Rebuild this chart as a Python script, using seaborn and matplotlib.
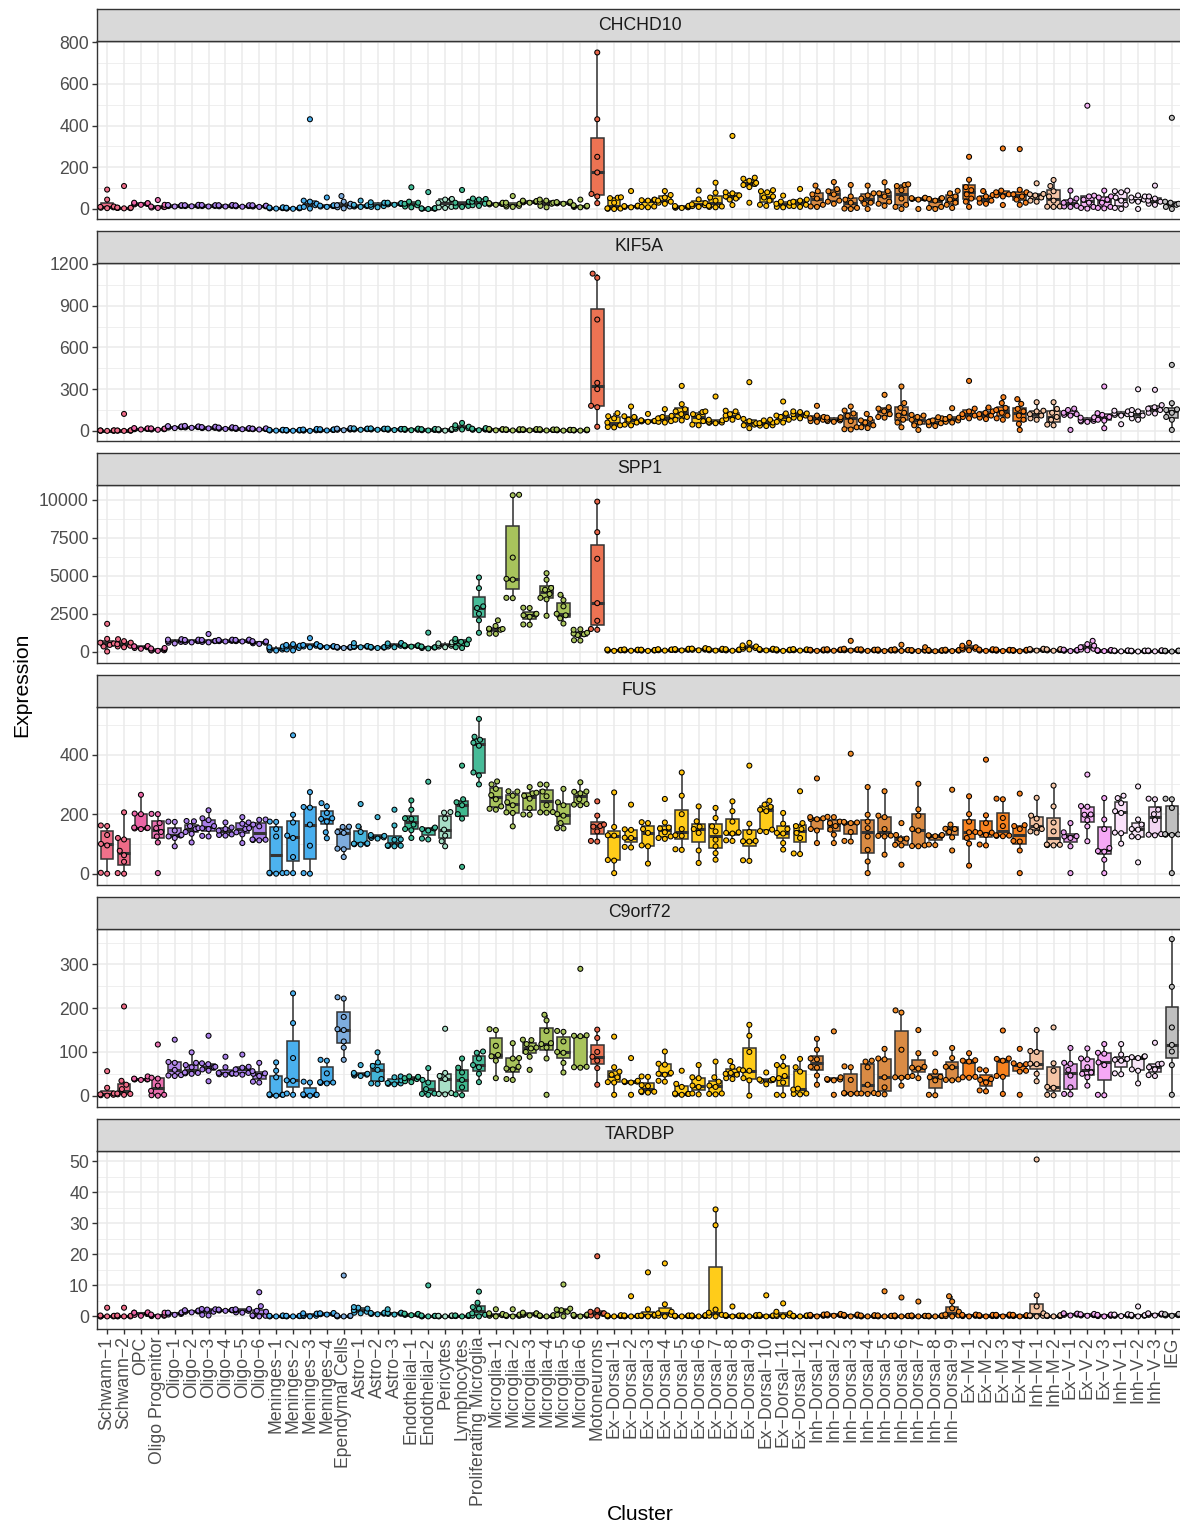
import warnings
import numpy as np
import pandas as pd
import matplotlib
matplotlib.use("Agg")
import matplotlib.pyplot as plt
from matplotlib.ticker import MultipleLocator, FixedLocator, FuncFormatter
import seaborn as sns

warnings.filterwarnings("ignore")

clusters = [
    "Schwann-1", "Schwann-2", "OPC", "Oligo Progenitor",
    "Oligo-1", "Oligo-2", "Oligo-3", "Oligo-4", "Oligo-5", "Oligo-6",
    "Meninges-1", "Meninges-2", "Meninges-3", "Meninges-4", "Ependymal Cells",
    "Astro-1", "Astro-2", "Astro-3", "Endothelial-1", "Endothelial-2",
    "Pericytes", "Lymphocytes", "Proliferating Microglia",
    "Microglia-1", "Microglia-2", "Microglia-3", "Microglia-4", "Microglia-5", "Microglia-6",
    "Motoneurons",
    "Ex-Dorsal-1", "Ex-Dorsal-2", "Ex-Dorsal-3", "Ex-Dorsal-4", "Ex-Dorsal-5", "Ex-Dorsal-6",
    "Ex-Dorsal-7", "Ex-Dorsal-8", "Ex-Dorsal-9", "Ex-Dorsal-10", "Ex-Dorsal-11", "Ex-Dorsal-12",
    "Inh-Dorsal-1", "Inh-Dorsal-2", "Inh-Dorsal-3", "Inh-Dorsal-4", "Inh-Dorsal-5",
    "Inh-Dorsal-6", "Inh-Dorsal-7", "Inh-Dorsal-8", "Inh-Dorsal-9",
    "Ex-M-1", "Ex-M-2", "Ex-M-3", "Ex-M-4", "Inh-M-1", "Inh-M-2",
    "Ex-V-1", "Ex-V-2", "Ex-V-3", "Inh-V-1", "Inh-V-2", "Inh-V-3", "IEG",
]

genes = ["CHCHD10", "KIF5A", "SPP1", "FUS", "C9orf72", "TARDBP"]

# per-cluster sample values, one list per cluster (same order as `clusters`)
CHCHD10 = [
    [4, 6, 8, 10, 12, 45, 93], [3, 4, 5, 5, 6, 7, 110], [20, 22, 24, 26, 27, 28, 30],
    [5, 7, 9, 10, 12, 20, 43], [12, 14, 15, 16, 17, 18, 19], [13, 14, 15, 16, 17, 18, 20],
    [12, 14, 15, 16, 17, 18, 19], [12, 13, 15, 16, 17, 18, 19], [11, 13, 14, 15, 16, 17, 18],
    [10, 12, 13, 14, 15, 16, 18], [2, 3, 4, 5, 6, 7, 8], [1, 2, 3, 4, 5, 6, 7],
    [2, 10, 18, 25, 35, 40, 430], [10, 12, 14, 15, 16, 18, 55], [3, 8, 12, 18, 25, 35, 62],
    [10, 12, 14, 16, 18, 20, 40], [8, 10, 14, 20, 28, 30, 32], [20, 22, 24, 26, 27, 28, 30],
    [8, 12, 18, 25, 30, 35, 104], [0, 1, 2, 2, 3, 4, 81], [5, 8, 10, 30, 45, 46, 48],
    [10, 12, 15, 30, 33, 35, 91], [15, 18, 25, 35, 45, 48, 50], [20, 22, 24, 25, 27, 28, 30],
    [10, 12, 15, 20, 25, 30, 62], [30, 32, 34, 35, 36, 38, 40], [8, 15, 25, 30, 35, 40, 45],
    [25, 27, 28, 30, 31, 33, 35], [8, 10, 12, 14, 15, 18, 45], [28, 60, 72, 175, 250, 430, 750],
    [0, 1, 2, 3, 30, 52, 54, 56], [8, 10, 12, 14, 15, 16, 86], [8, 10, 12, 40, 42, 44, 45],
    [25, 30, 35, 40, 55, 67, 86], [5, 6, 8, 10, 12, 14, 15], [10, 14, 18, 22, 28, 46, 88],
    [8, 10, 12, 15, 40, 55, 78, 126], [19, 45, 50, 60, 65, 75, 80, 350],
    [30, 105, 115, 120, 125, 135, 145, 150], [15, 20, 40, 55, 60, 80, 85, 90],
    [8, 10, 15, 25, 30, 35, 64], [10, 14, 20, 35, 40, 45, 96],
    [10, 12, 20, 50, 70, 85, 112], [25, 35, 40, 70, 85, 95, 129], [0, 2, 5, 30, 45, 60, 115],
    [0, 25, 30, 50, 65, 75, 112], [15, 25, 35, 60, 75, 85, 128], [0, 10, 20, 50, 90, 110, 115, 118],
    [0, 45, 48, 50, 51, 52, 54], [0, 5, 10, 40, 48, 50, 52], [5, 20, 30, 45, 60, 75, 87],
    [10, 35, 50, 70, 90, 105, 140, 250], [25, 30, 40, 50, 60, 67, 86], [19, 60, 65, 70, 80, 88, 290],
    [20, 30, 45, 60, 70, 80, 92, 287], [35, 40, 55, 65, 70, 72, 123], [10, 11, 12, 40, 60, 85, 110, 139],
    [10, 12, 15, 30, 40, 50, 88], [2, 5, 10, 30, 45, 60, 64, 495], [3, 5, 10, 30, 45, 55, 60, 88],
    [0, 5, 20, 40, 55, 80, 85, 88], [0, 35, 40, 45, 55, 60, 65], [20, 25, 35, 40, 50, 60, 112],
    [0, 10, 20, 25, 30, 35, 437],
]

KIF5A = [
    [0, 1, 1, 2, 2, 3, 4], [0, 1, 2, 2, 3, 4, 122], [10, 12, 14, 15, 16, 18, 20],
    [8, 10, 12, 14, 15, 16, 18], [20, 24, 26, 28, 30, 32, 34], [22, 25, 27, 28, 30, 32, 36],
    [18, 20, 22, 24, 25, 27, 30], [14, 16, 18, 20, 22, 24, 26], [12, 14, 15, 16, 18, 20, 22],
    [10, 12, 13, 14, 15, 16, 18], [2, 3, 4, 5, 6, 7, 8], [1, 2, 3, 4, 5, 6, 7],
    [0, 2, 4, 6, 8, 10, 14], [3, 5, 6, 8, 9, 10, 12], [5, 8, 10, 12, 14, 16, 20],
    [8, 10, 12, 14, 15, 16, 18], [8, 10, 12, 13, 14, 16, 18], [6, 8, 10, 12, 13, 14, 16],
    [5, 7, 9, 10, 12, 14, 16], [3, 5, 7, 8, 10, 12, 14], [2, 4, 6, 8, 10, 12, 14],
    [10, 15, 20, 25, 30, 40, 57], [5, 8, 10, 12, 14, 16, 20], [4, 6, 8, 10, 11, 12, 14],
    [3, 5, 6, 8, 9, 10, 12], [4, 6, 7, 8, 10, 11, 13], [3, 5, 6, 7, 8, 10, 12],
    [2, 4, 5, 6, 7, 8, 10], [2, 3, 4, 5, 6, 7, 9], [30, 170, 180, 300, 345, 800, 1100, 1130],
    [25, 28, 40, 60, 90, 105, 127], [40, 45, 60, 80, 100, 105, 175], [65, 68, 70, 72, 74, 76, 122],
    [60, 65, 70, 90, 100, 108, 156], [75, 80, 100, 120, 140, 155, 192, 323],
    [40, 45, 70, 100, 120, 135, 140], [55, 58, 60, 65, 75, 80, 247], [80, 85, 100, 110, 120, 140, 145],
    [19, 40, 45, 55, 70, 86, 350], [35, 38, 40, 55, 60, 75, 80], [60, 65, 80, 100, 110, 125, 211],
    [90, 95, 110, 120, 125, 135, 140], [65, 70, 80, 90, 100, 110, 180], [65, 70, 75, 80, 85, 95, 98],
    [10, 12, 26, 70, 108, 125, 146, 175], [20, 26, 40, 60, 75, 86, 122],
    [95, 100, 120, 140, 160, 170, 259], [26, 60, 80, 110, 130, 165, 200, 319],
    [7, 40, 60, 80, 100, 110, 115], [35, 40, 55, 65, 75, 90, 98], [60, 65, 75, 85, 95, 100, 163],
    [90, 100, 110, 120, 140, 160, 359], [85, 95, 110, 120, 130, 140, 168],
    [80, 90, 110, 130, 150, 165, 200, 242], [7, 50, 80, 110, 140, 158, 194, 228],
    [80, 90, 110, 120, 140, 145, 206], [40, 45, 80, 100, 130, 158, 206],
    [7, 110, 115, 120, 130, 150, 160], [65, 68, 72, 75, 85, 95, 97], [19, 74, 80, 100, 115, 127, 319],
    [48, 110, 115, 120, 125, 140, 145], [80, 90, 110, 120, 140, 150, 299],
    [125, 130, 150, 160, 170, 185, 295], [7, 80, 100, 130, 150, 155, 199, 474],
]

SPP1 = [
    [20, 350, 450, 550, 600, 850, 1840], [300, 350, 400, 500, 600, 700, 830],
    [200, 250, 300, 330, 350, 360, 380], [60, 80, 100, 130, 180, 220, 250],
    [550, 600, 650, 700, 750, 800, 830], [620, 650, 700, 720, 750, 780, 800],
    [620, 650, 700, 720, 750, 780, 1170], [680, 700, 720, 740, 760, 780, 800],
    [680, 700, 720, 740, 760, 780, 800], [520, 560, 600, 640, 660, 680, 700],
    [80, 100, 150, 200, 250, 300, 350], [90, 150, 250, 350, 400, 450, 500],
    [300, 350, 400, 450, 480, 500, 900], [300, 320, 340, 350, 360, 370, 380],
    [250, 270, 280, 290, 300, 310, 320], [300, 320, 340, 350, 360, 380, 570],
    [250, 270, 280, 290, 300, 310, 320], [300, 350, 400, 450, 500, 550, 580],
    [340, 360, 380, 400, 410, 420, 430], [220, 250, 280, 300, 320, 350, 1260],
    [300, 350, 400, 450, 500, 550, 620], [250, 300, 500, 650, 700, 800, 850],
    [1250, 2070, 2500, 2880, 2990, 4190, 4890], [1180, 1200, 1450, 1480, 1500, 1520, 1700, 2070],
    [3530, 3550, 4750, 4800, 6200, 10300, 10330], [1780, 1800, 2300, 2400, 2450, 2500, 2880, 2900],
    [2370, 3450, 3550, 3800, 4080, 4200, 4740, 5170], [1860, 2200, 2400, 2500, 2990, 3400, 3750],
    [740, 760, 1100, 1150, 1200, 1250, 1450, 1480], [1450, 1500, 2040, 3200, 6120, 7870, 9880],
    [60, 80, 100, 110, 120, 130, 150], [70, 90, 100, 110, 120, 140, 160],
    [60, 80, 90, 100, 110, 120, 140], [80, 100, 120, 130, 140, 150, 170],
    [90, 110, 130, 150, 160, 180, 200], [100, 130, 150, 170, 190, 210, 240],
    [80, 100, 120, 140, 160, 180, 200], [70, 90, 110, 120, 130, 150, 170],
    [150, 200, 250, 300, 350, 420, 590], [90, 110, 130, 150, 160, 180, 200],
    [60, 80, 100, 110, 120, 140, 160], [80, 100, 110, 120, 140, 160, 180],
    [60, 80, 90, 100, 120, 130, 150], [70, 90, 110, 120, 130, 150, 170],
    [80, 100, 120, 140, 160, 200, 720], [60, 80, 100, 110, 120, 140, 160],
    [50, 70, 90, 100, 110, 130, 150], [60, 80, 100, 120, 140, 160, 460],
    [50, 60, 80, 90, 100, 110, 300], [40, 60, 70, 80, 90, 100, 120],
    [50, 70, 80, 90, 100, 120, 140], [100, 150, 200, 250, 300, 400, 590],
    [60, 80, 100, 110, 130, 150, 170], [50, 70, 90, 100, 110, 130, 150],
    [40, 60, 80, 90, 100, 110, 130], [80, 100, 120, 140, 160, 180, 200],
    [70, 90, 110, 120, 140, 160, 180], [50, 70, 80, 90, 100, 120, 140],
    [100, 150, 200, 300, 400, 500, 720], [50, 60, 70, 80, 90, 100, 120],
    [30, 40, 50, 60, 70, 80, 90], [20, 30, 40, 50, 60, 70, 80],
    [30, 40, 50, 60, 70, 80, 100], [20, 30, 40, 50, 60, 70, 80],
]

FUS = [
    [0, 3, 95, 100, 130, 160, 162], [0, 2, 40, 62, 77, 115, 120, 206],
    [150, 152, 153, 154, 155, 200, 202, 265], [2, 105, 125, 140, 153, 170, 200, 201],
    [92, 120, 125, 128, 130, 145, 174, 175], [105, 134, 140, 150, 153, 160, 176, 177],
    [125, 127, 150, 153, 160, 180, 186, 213], [128, 130, 132, 145, 150, 155, 172],
    [103, 132, 139, 150, 153, 168, 172, 190], [112, 113, 114, 115, 159, 165, 181, 182],
    [0, 1, 2, 3, 125, 150, 174, 175], [2, 3, 56, 120, 128, 172, 198, 465],
    [0, 2, 94, 165, 222, 224, 274], [119, 139, 175, 184, 186, 204, 226, 237],
    [56, 82, 84, 137, 140, 157, 158], [98, 99, 100, 101, 102, 140, 159, 234],
    [118, 120, 122, 125, 127, 130, 190], [92, 93, 94, 95, 114, 115, 162, 215],
    [120, 146, 150, 165, 184, 186, 215, 246], [115, 118, 145, 150, 152, 155, 309],
    [92, 109, 128, 148, 185, 205, 207], [23, 185, 200, 230, 240, 250, 363],
    [300, 330, 340, 430, 440, 450, 460, 520], [215, 218, 226, 250, 264, 285, 300, 310],
    [159, 204, 206, 230, 240, 262, 276, 277], [198, 199, 220, 252, 262, 270, 272, 291],
    [205, 206, 207, 230, 260, 276, 299, 300], [152, 153, 170, 195, 200, 230, 240, 285],
    [230, 232, 234, 250, 270, 275, 276, 307], [108, 110, 142, 158, 160, 165, 195, 243],
    [2, 44, 46, 128, 129, 157, 273], [88, 90, 120, 121, 147, 149, 232],
    [34, 92, 95, 137, 150, 170, 173], [117, 120, 125, 139, 152, 155, 172, 251],
    [80, 82, 127, 129, 150, 200, 262, 340], [36, 78, 137, 150, 158, 176, 226],
    [47, 69, 92, 114, 142, 159, 187, 221], [110, 112, 135, 137, 139, 175, 210, 243],
    [43, 45, 108, 109, 110, 140, 168, 363], [140, 143, 148, 210, 215, 225, 232, 245],
    [81, 103, 135, 137, 150, 168, 204], [66, 68, 120, 137, 150, 160, 170, 277],
    [103, 145, 150, 183, 184, 186, 190, 320], [103, 131, 148, 160, 170, 175, 190, 191],
    [108, 110, 140, 170, 171, 172, 174, 403], [2, 41, 80, 125, 153, 175, 198, 291],
    [64, 125, 127, 128, 150, 190, 195, 277], [30, 95, 97, 115, 118, 130, 170],
    [92, 93, 95, 145, 150, 195, 216, 302], [96, 98, 126, 127, 128, 129, 130],
    [78, 122, 140, 150, 151, 165, 282], [27, 101, 120, 139, 140, 175, 200, 260],
    [95, 98, 130, 137, 138, 170, 196, 383], [126, 127, 128, 129, 160, 187, 250, 252],
    [2, 78, 108, 110, 150, 160, 163, 269], [138, 142, 150, 160, 185, 195, 255],
    [95, 96, 97, 98, 142, 172, 226, 296], [2, 92, 120, 125, 126, 139, 170],
    [109, 159, 180, 198, 199, 225, 227, 333], [2, 47, 74, 76, 86, 150, 182, 254],
    [101, 136, 138, 204, 210, 237, 254, 262], [38, 123, 125, 148, 150, 165, 182, 293],
    [129, 131, 133, 180, 200, 215, 250, 252], [2, 130, 131, 132, 133, 221, 250, 252],
]

C9orf72 = [
    [0, 1, 2, 3, 5, 18, 56], [2, 3, 4, 5, 15, 25, 34, 204], [36, 37, 37, 38, 38, 39, 44],
    [0, 1, 2, 11, 23, 39, 41, 117], [45, 46, 47, 59, 75, 77, 128], [50, 51, 52, 53, 65, 70, 75, 99],
    [33, 57, 60, 65, 66, 72, 74, 137], [48, 49, 50, 51, 52, 65, 89], [48, 50, 52, 60, 64, 66, 94],
    [30, 32, 45, 50, 51, 56, 75], [0, 1, 2, 2, 3, 42, 57, 76], [2, 5, 34, 35, 86, 166, 234],
    [0, 1, 2, 2, 3, 30, 32], [28, 29, 30, 31, 51, 80, 82], [82, 110, 124, 150, 152, 180, 222, 225],
    [45, 46, 48, 49, 50, 52, 70], [27, 28, 38, 59, 68, 76, 99], [26, 27, 28, 29, 35, 42, 44],
    [31, 33, 38, 40, 42, 43, 44], [2, 4, 5, 15, 30, 36, 63], [3, 4, 6, 38, 45, 52, 153],
    [1, 3, 19, 36, 53, 64, 85], [31, 50, 65, 70, 85, 98, 101], [40, 80, 90, 93, 114, 150, 152],
    [36, 38, 60, 62, 66, 85, 86, 120], [59, 89, 100, 108, 110, 118, 127, 128],
    [2, 85, 110, 118, 120, 148, 172, 185], [53, 75, 98, 100, 124, 146, 148],
    [64, 65, 66, 136, 137, 138, 290], [25, 63, 80, 89, 100, 132, 151],
    [2, 30, 31, 42, 48, 55, 65, 135], [2, 30, 31, 32, 33, 34, 86], [7, 8, 9, 10, 22, 24, 43, 44],
    [32, 34, 48, 50, 52, 71, 73, 101], [2, 3, 4, 4, 5, 20, 27, 57], [3, 5, 20, 23, 40, 42, 70],
    [3, 4, 5, 20, 23, 32, 42, 78], [38, 40, 48, 50, 52, 60, 66, 79], [0, 35, 40, 57, 58, 100, 137, 162],
    [26, 34, 35, 36, 37, 38, 53], [1, 2, 30, 40, 45, 68, 70, 88], [3, 4, 5, 14, 16, 55, 65, 84],
    [25, 46, 64, 66, 83, 85, 105, 130], [2, 35, 36, 37, 38, 42, 147], [4, 5, 5, 6, 36, 65, 67],
    [4, 5, 6, 25, 65, 78, 80], [3, 4, 19, 42, 83, 85, 107], [23, 41, 42, 43, 105, 190, 195],
    [40, 45, 62, 64, 66, 97, 150], [1, 2, 35, 42, 43, 55, 97], [35, 36, 37, 65, 66, 86, 109],
    [41, 42, 43, 78, 80, 81, 97], [10, 12, 30, 36, 38, 58, 60], [4, 43, 45, 80, 84, 85, 149],
    [2, 55, 57, 70, 72, 74, 107], [33, 50, 72, 73, 100, 102, 150], [1, 2, 18, 20, 57, 74, 156],
    [3, 4, 19, 46, 59, 73, 75, 109], [23, 42, 50, 53, 65, 83, 85, 108], [1, 2, 70, 76, 96, 98, 118],
    [49, 51, 80, 82, 84, 94, 118], [28, 57, 60, 86, 88, 89, 90], [45, 47, 60, 65, 72, 73, 121],
    [2, 70, 101, 116, 156, 249, 358],
]

TARDBP = [
    [0, 0, 0, 0, 0.2, 0.3, 2.8], [0, 0, 0, 0.1, 0.2, 0.3, 2.8], [0.2, 0.5, 0.8, 1.0, 1.2, 1.2, 1.3],
    [0, 0.1, 0.2, 0.4, 0.5, 0.6, 1.2], [0.5, 0.6, 0.8, 1.0, 1.1, 1.2, 1.3],
    [1.3, 1.5, 1.6, 1.7, 1.8, 1.9, 2.0], [0.3, 0.5, 1.5, 2.0, 2.2, 2.3, 2.4],
    [1.8, 1.9, 2.0, 2.0, 2.1, 2.1, 2.2], [1.2, 1.3, 1.8, 2.0, 2.2, 2.3, 2.4],
    [0, 0.1, 0.2, 0.3, 1.5, 1.8, 3.3, 7.8], [0, 0, 0.1, 0.1, 0.2, 0.2, 0.3],
    [0, 0, 0.1, 0.1, 0.1, 0.2, 0.2], [0, 0.1, 0.2, 0.5, 0.8, 0.9, 1.0],
    [0.6, 0.7, 0.8, 0.9, 0.9, 1.0, 1.1], [0, 0, 0.1, 0.1, 0.2, 0.3, 13.2],
    [1.0, 1.2, 1.5, 2.0, 2.5, 2.8, 3.0], [0.7, 0.8, 0.9, 1.0, 1.0, 1.1, 1.2],
    [0.6, 0.8, 0.9, 1.0, 1.1, 1.2, 2.3], [0.4, 0.5, 0.6, 0.6, 0.7, 0.8, 0.9],
    [0, 0, 0.1, 0.1, 0.2, 0.3, 10.0], [0, 0, 0.1, 0.1, 0.2, 0.2, 0.3],
    [0, 0.1, 0.1, 0.2, 0.2, 0.3, 0.4], [0, 0.2, 0.5, 1.0, 2.5, 3.0, 4.4, 8.0],
    [0, 0.2, 0.4, 0.6, 0.8, 1.0, 2.3], [0, 0.1, 0.2, 0.3, 0.4, 0.6, 2.3],
    [0.3, 0.5, 0.6, 0.8, 0.9, 1.0, 1.2], [0, 0.1, 0.1, 0.2, 0.2, 0.3, 0.4],
    [0, 0.5, 1.5, 2.0, 2.2, 2.5, 10.3], [0, 0.1, 0.2, 0.3, 0.4, 0.5, 0.6],
    [0, 0.3, 0.8, 1.0, 1.5, 2.0, 19.4], [0, 0, 0.1, 0.1, 0.2, 0.3, 0.4],
    [0, 0, 0.1, 0.2, 0.2, 0.3, 6.5], [0, 0.1, 0.2, 0.3, 0.5, 2.3, 14.2],
    [0, 0.2, 0.5, 1.0, 1.5, 3.9, 17.1], [0, 0, 0.1, 0.1, 0.2, 0.2, 0.3],
    [0, 0, 0.1, 0.2, 0.2, 0.3, 0.4], [0, 0.2, 0.5, 1.2, 2.2, 29.4, 34.5],
    [0, 0.1, 0.1, 0.2, 0.3, 0.4, 3.2], [0, 0, 0.1, 0.1, 0.2, 0.3, 0.4],
    [0, 0.1, 0.1, 0.2, 0.3, 0.5, 6.8], [0, 0.1, 0.3, 0.5, 1.0, 1.5, 4.2],
    [0, 0, 0.1, 0.1, 0.2, 0.2, 0.3], [0, 0.1, 0.2, 0.3, 0.4, 0.5, 0.6],
    [0.2, 0.3, 0.4, 0.5, 0.6, 0.7, 0.8], [0, 0.1, 0.2, 0.3, 0.4, 0.5, 0.6],
    [0, 0, 0.1, 0.1, 0.2, 0.3, 0.4], [0, 0, 0.1, 0.2, 0.2, 0.3, 8.1],
    [0, 0, 0.1, 0.1, 0.2, 0.3, 6.1], [0, 0, 0.1, 0.2, 0.2, 0.3, 4.8],
    [0, 0, 0.1, 0.1, 0.2, 0.2, 0.3], [0, 0.1, 0.3, 0.6, 1.5, 2.6, 4.8, 6.5],
    [0, 0.1, 0.2, 0.3, 0.4, 0.5, 0.6], [0, 0.1, 0.1, 0.2, 0.3, 0.4, 0.5],
    [0, 0.1, 0.2, 0.3, 0.4, 0.5, 0.6], [0, 0.1, 0.1, 0.2, 0.3, 0.4, 0.5],
    [0, 0.1, 0.2, 0.3, 1.0, 3.2, 6.8, 50.6], [0, 0.1, 0.1, 0.2, 0.2, 0.3, 0.4],
    [0.3, 0.5, 0.6, 0.7, 0.8, 0.9, 1.0], [0.2, 0.3, 0.4, 0.5, 0.6, 0.7, 0.8],
    [0, 0.1, 0.2, 0.3, 0.4, 0.5, 0.6], [0.1, 0.2, 0.3, 0.4, 0.5, 0.6, 0.7],
    [0, 0.1, 0.2, 0.3, 0.4, 0.5, 3.2], [0.3, 0.5, 0.6, 0.7, 0.8, 0.9, 1.0],
    [0.2, 0.3, 0.4, 0.5, 0.6, 0.7, 0.8],
]

y_breaks = [
    [0, 200, 400, 600, 800],
    [0, 300, 600, 900, 1200],
    [0, 2500, 5000, 7500, 10000],
    [0, 200, 400],
    [0, 100, 200, 300],
    [0, 10, 20, 30, 40, 50],
]

# ---- colours per cluster -------------------------------------------------
box_colors = (
    ["#F0718A", "#EE6B87", "#EC65A6", "#E96FAF"]
    + ["#B58BEA", "#AE83EA", "#A87DE9", "#A57DE6", "#A880EA", "#AB82EB"]
    + ["#4DB2EE", "#4AB0EE", "#48AEEE", "#46ABE8", "#7EADDE"]
    + ["#47B4DC", "#43B5D6", "#3FB6C8"]
    + ["#3DBA93", "#44BD9F", "#A8DFC7", "#40B88E", "#47BB98"]
    + ["#A8C35C"] * 6
    + ["#EC7353"]
    + ["#FFCC1A"] * 12
    + ["#D98B45"] * 9
    + ["#F8821F"] * 4
    + ["#F2C3A2", "#F4C5A6"]
    + ["#E7A2EC", "#F4B2F4", "#F5A8F5"]
    + ["#FBE2FB", "#F8E6F8", "#F2D6F2"]
    + ["#BFBFBF"]
)
point_colors = list(box_colors)
for k in range(30, 42):
    point_colors[k] = "#FFC10A"
for k in range(42, 51):
    point_colors[k] = "#F28C28"
for k in range(51, 55):
    point_colors[k] = "#F7801E"
point_colors[29] = "#E8664A"

# ---- long table --------------------------------------------------------
gene_tables = [CHCHD10, KIF5A, SPP1, FUS, C9orf72, TARDBP]
rows = []
for gene, table in zip(genes, gene_tables):
    for cl, vals in zip(clusters, table):
        for v in vals:
            rows.append((gene, cl, v))
df = pd.DataFrame(rows, columns=["Gene", "Cluster", "Expression"])

# ---- figure --------------------------------------------------------------
sns.set_theme(style="white")
plt.rcParams["font.family"] = ["Liberation Sans", "DejaVu Sans"]

W, H = 1180, 1525
fig = plt.figure(figsize=(W / 100, H / 100), dpi=100)

left_px, right_px = 97, 1182
panel_h, strip_h = 178, 32
first_top, step = 41, 221.9
# y-limits of every panel (data units)
ylims = [(-48, 805), (-72, 1207), (-724, 10987), (-37, 561), (-25, 382), (-3.9, 53.5)]

dark = "#333333"
grid_c = "#EBEBEB"
txt_c = "#4D4D4D"
fs = 12.7

for i, gene in enumerate(genes):
    top = first_top + step * i
    ax = fig.add_axes([left_px / W, 1 - (top + panel_h) / H,
                       (right_px - left_px) / W, panel_h / H])
    sax = fig.add_axes([left_px / W, 1 - top / H,
                        (right_px - left_px) / W, strip_h / H])

    sub = df[df["Gene"] == gene]
    sns.boxplot(data=sub, x="Cluster", y="Expression", hue="Cluster",
                order=clusters, hue_order=clusters, palette=box_colors,
                legend=False, width=0.75, showfliers=False, showcaps=False,
                saturation=1, linecolor=dark, linewidth=1.1,
                medianprops=dict(linewidth=2.2, color=dark), ax=ax, zorder=2)
    sns.swarmplot(data=sub, x="Cluster", y="Expression", hue="Cluster",
                  order=clusters, hue_order=clusters, palette=point_colors,
                  legend=False, size=3.6, edgecolor="black", linewidth=0.75,
                  warn_thresh=1, ax=ax, zorder=3)

    ax.set_xlim(-0.6, len(clusters) - 0.4)
    ax.set_ylim(*ylims[i])
    br = y_breaks[i]
    ax.yaxis.set_major_locator(FixedLocator(br))
    ax.yaxis.set_minor_locator(MultipleLocator((br[1] - br[0]) / 2))
    ax.yaxis.set_major_formatter(FuncFormatter(lambda v, p: f"{int(round(v))}"))
    ax.set_xticks(range(len(clusters)))

    ax.set_axisbelow(True)
    ax.grid(which="major", color=grid_c, linewidth=1.1)
    ax.grid(which="minor", axis="y", color=grid_c, linewidth=0.55)
    ax.set_facecolor("white")
    for sp in ax.spines.values():
        sp.set_visible(True)
        sp.set_color(dark)
        sp.set_linewidth(1.0)

    ax.tick_params(axis="y", which="major", length=3.8, width=1.0, color=dark,
                   labelcolor=txt_c, labelsize=fs, pad=2, left=True)
    ax.tick_params(axis="y", which="minor", length=0)
    ax.set_xlabel("")
    ax.set_ylabel("")

    if i < len(genes) - 1:
        ax.tick_params(axis="x", length=0, labelbottom=False)
    else:
        ax.tick_params(axis="x", length=3.8, width=1.0, color=dark, bottom=True,
                       labelcolor=txt_c, labelsize=fs, pad=2)
        ax.set_xticklabels([c.replace("-", "\u2212") for c in clusters],
                           rotation=90, ha="center", va="top")

    # facet strip
    sax.set_facecolor("#D9D9D9")
    sax.set_xticks([])
    sax.set_yticks([])
    for sp in sax.spines.values():
        sp.set_visible(True)
        sp.set_color(dark)
        sp.set_linewidth(1.0)
    sax.text(0.5, 0.5, gene, ha="center", va="center", fontsize=fs,
             color="#1A1A1A", transform=sax.transAxes)

fig.text(22 / W, 1 - 685 / H, "Expression", rotation=90, ha="center",
         va="center", fontsize=15.2, color="black")
fig.text(640 / W, 1 - 1515 / H, "Cluster", ha="center", va="center",
         fontsize=15.2, color="black")

fig.savefig("out.png", dpi=100)
